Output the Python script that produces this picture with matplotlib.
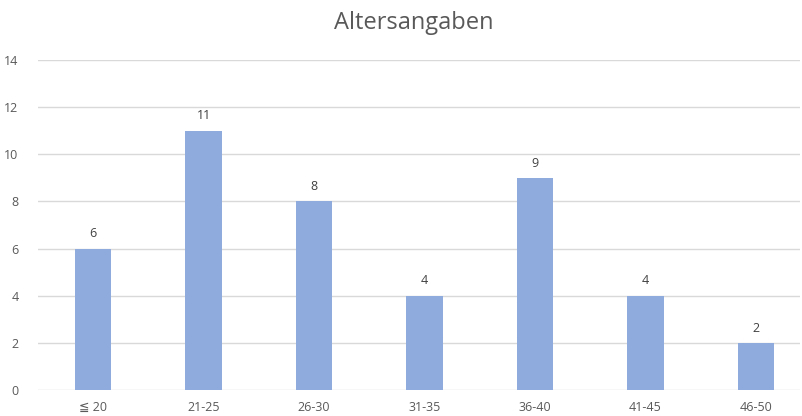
import matplotlib
matplotlib.use("Agg")
import matplotlib.pyplot as plt

# Altersangaben - Balkendiagramm
categories = ["≦ 20", "21-25", "26-30", "31-35", "36-40", "41-45", "46-50"]
counts = [6, 11, 8, 4, 9, 4, 2]
y_ticks = [0, 2, 4, 6, 8, 10, 12, 14]

plt.rcParams["font.family"] = ["Open Sans", "DejaVu Sans"]
text_color = "#595959"

fig = plt.figure(figsize=(8.03, 4.16), dpi=100)
ax = fig.add_axes([38 / 803, 26 / 416, 762 / 803, 330 / 416])

x = range(len(categories))
bars = ax.bar(x, counts, width=0.33, color="#8FAADC", zorder=3)

for xi, v in zip(x, counts):
    ax.text(xi, v + 0.35, str(v), ha="center", va="bottom",
            fontsize=9, color="#404040")

ax.set_xlim(-0.5, 6.4)
ax.set_ylim(0, 14)
ax.set_yticks(y_ticks)
ax.set_xticks(list(x))
ax.set_xticklabels(categories)
ax.tick_params(axis="both", length=0, labelsize=9, colors=text_color)
ax.tick_params(axis="y", pad=14)
ax.tick_params(axis="x", pad=8)
ax.grid(axis="y", color="#D9D9D9", linewidth=1, zorder=0)
for side in ["top", "right", "left", "bottom"]:
    ax.spines[side].set_visible(False)

fig.text(0.515, 0.945, "Altersangaben", ha="center", va="center",
         fontsize=17, color=text_color)

fig.savefig("out.png", dpi=100)
plt.close(fig)
